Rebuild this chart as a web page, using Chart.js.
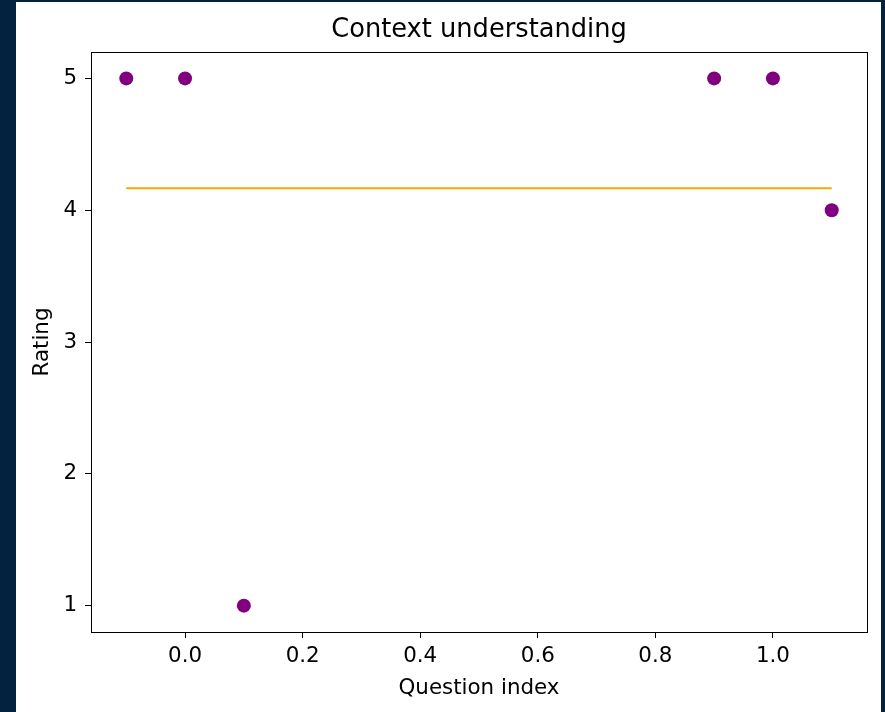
<!DOCTYPE html>
<html>
<head>
    <title>Context understanding</title>
    <script src="https://cdn.jsdelivr.net/npm/chart.js"></script>
    <style>
        body { margin: 0; background: #02223f; }
        #panel { position: absolute; left: 16px; top: 2px; width: 865px; height: 710px; background: #fff; }
    </style>
</head>
<body>
    <div id="panel"><canvas id="ratingChart" width="865" height="710"></canvas></div>
    <script>
        // question positions and ratings
        const questionX = [-0.1, 0.0, 0.1, 0.9, 1.0, 1.1];
        const ratings = [5, 5, 1, 5, 5, 4];
        const meanRating = 25 / 6;
        const xTicks = [0.0, 0.2, 0.4, 0.6, 0.8, 1.0];
        const yTicks = [1, 2, 3, 4, 5];

        const points = questionX.map((x, i) => ({ x: x, y: ratings[i] }));
        const meanLine = [
            { x: questionX[0], y: meanRating },
            { x: questionX[questionX.length - 1], y: meanRating }
        ];

        const font = { family: 'DejaVu Sans', size: 21.4 };

        // matplotlib style box around the axes
        const frame = {
            id: 'frame',
            afterDraw(chart) {
                const a = chart.chartArea;
                const ctx = chart.ctx;
                ctx.save();
                ctx.strokeStyle = '#000';
                ctx.lineWidth = 1;
                ctx.strokeRect(Math.round(a.left) + 0.5, Math.round(a.top) + 0.5,
                    Math.round(a.right - a.left), Math.round(a.bottom - a.top));
                ctx.restore();
            }
        };

        const ctx = document.getElementById('ratingChart').getContext('2d');
        new Chart(ctx, {
            type: 'scatter',
            data: {
                datasets: [{
                    label: 'Mean',
                    type: 'line',
                    data: meanLine,
                    borderColor: '#ffa500',
                    borderWidth: 2,
                    pointRadius: 0,
                    fill: false
                }, {
                    label: 'Rating',
                    data: points,
                    backgroundColor: '#800080',
                    borderWidth: 0,
                    pointRadius: 7
                }]
            },
            options: {
                responsive: false,
                animation: false,
                layout: { padding: { right: 14 } },
                plugins: {
                    legend: { display: false },
                    tooltip: { enabled: false },
                    title: {
                        display: true,
                        text: 'Context understanding',
                        fullSize: false,
                        color: '#000',
                        font: { family: 'DejaVu Sans', size: 25.7, weight: 'normal' },
                        padding: { top: 12.6, bottom: 6.6 }
                    }
                },
                scales: {
                    x: {
                        type: 'linear',
                        min: -0.16,
                        max: 1.16,
                        afterBuildTicks: s => { s.ticks = xTicks.map(v => ({ value: v })); },
                        afterFit: s => { s.height = 80; },
                        ticks: {
                            color: '#000',
                            font: font,
                            padding: 6,
                            maxRotation: 0,
                            callback: v => v.toFixed(1)
                        },
                        grid: { drawOnChartArea: false, tickLength: 6, tickColor: '#000' },
                        border: { color: '#000' },
                        title: {
                            display: true,
                            text: 'Question index',
                            color: '#000',
                            font: font,
                            padding: { top: 2, bottom: 11.2 }
                        }
                    },
                    y: {
                        min: 0.8,
                        max: 5.2,
                        afterBuildTicks: s => { s.ticks = yTicks.map(v => ({ value: v })); },
                        afterFit: s => { s.width = 75; },
                        ticks: { color: '#000', font: font, padding: 8 },
                        grid: { drawOnChartArea: false, tickLength: 6, tickColor: '#000' },
                        border: { color: '#000' },
                        title: {
                            display: true,
                            text: 'Rating',
                            color: '#000',
                            font: font,
                            padding: { top: 13.2, bottom: 2 }
                        }
                    }
                }
            },
            plugins: [frame]
        });
    </script>
</body>
</html>
